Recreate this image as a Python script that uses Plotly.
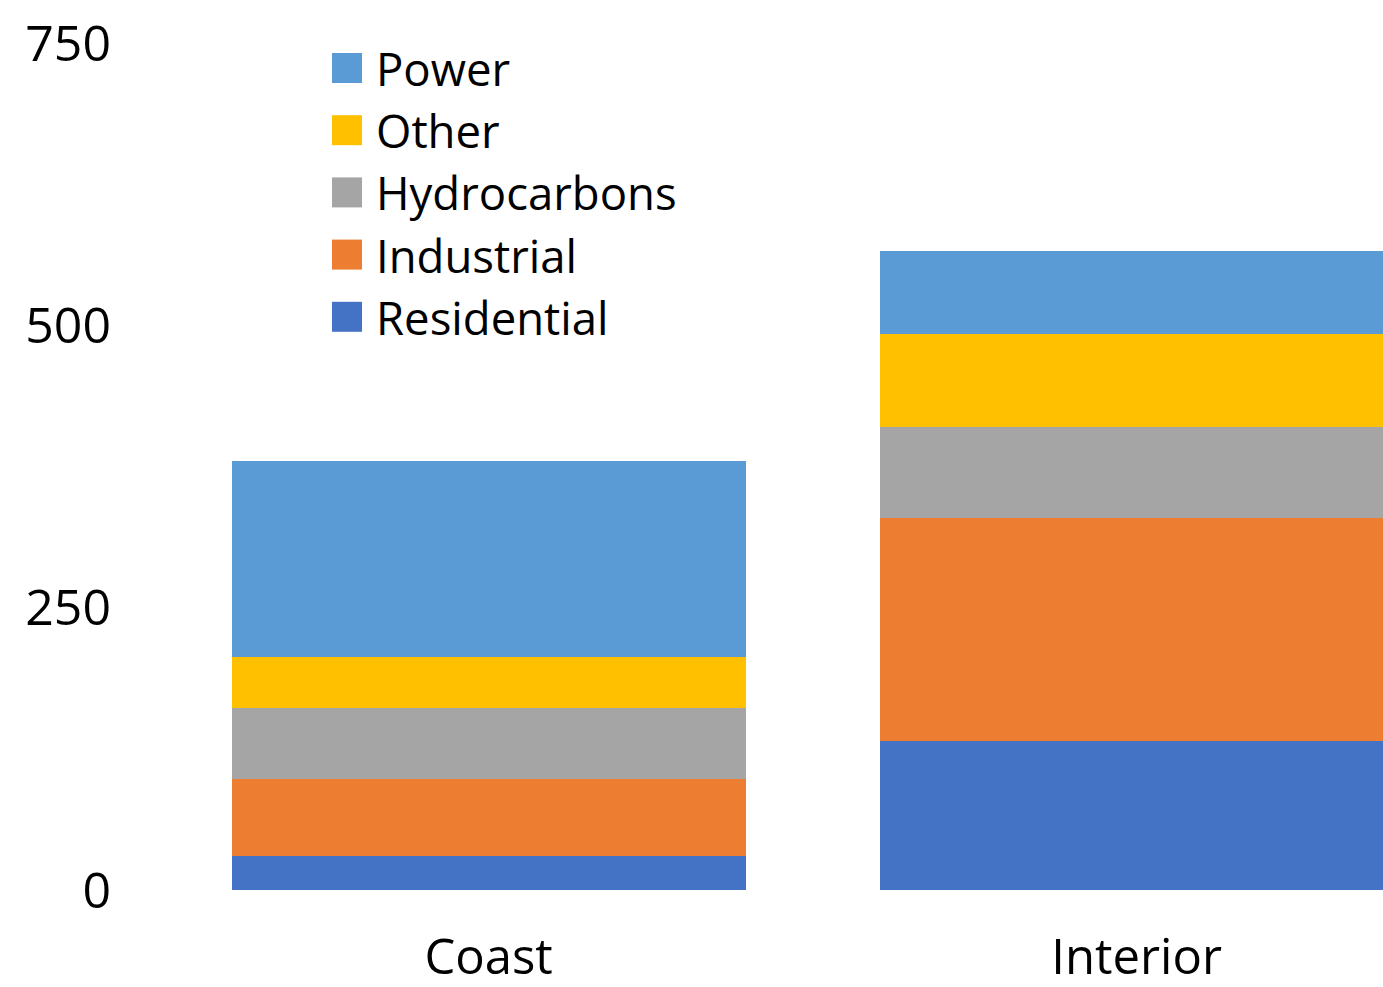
import plotly.graph_objects as go

# Regions and stacked segment values (bottom to top)
regions = ["Coast", "Interior"]
series_names = ["Residential", "Industrial", "Hydrocarbons", "Other", "Power"]
residential = [30, 132]
industrial = [68, 197]
hydrocarbons = [63, 81]
other = [45, 82]
power = [174, 74]
series_values = [residential, industrial, hydrocarbons, other, power]
series_colors = ["#4472C4", "#ED7D31", "#A5A5A5", "#FFC000", "#5B9BD5"]
y_ticks = [0, 250, 500, 750]

W, H = 1383, 987
ML, MR, MT, MB = 112, 0, 5, 97
FONT = "Open Sans"

fig = go.Figure()
for name, vals, col in zip(series_names, series_values, series_colors):
    fig.add_trace(go.Bar(x=regions, y=vals, name=name, marker=dict(color=col, line=dict(width=0)),
                         showlegend=False))

# Hand-drawn legend: large swatches, top entry is the last stacked series
plot_w = W - ML - MR
plot_h = H - MT - MB
def px_to_paper_x(px):
    return (px - ML) / plot_w
def px_to_paper_y(py):
    return (H - MB - py) / plot_h

row0, row_step = 68, 62.2
for i, (name, col) in enumerate(zip(reversed(series_names), reversed(series_colors))):
    cy = row0 + i * row_step
    fig.add_shape(type="rect", xref="paper", yref="paper",
                  x0=px_to_paper_x(332), x1=px_to_paper_x(362),
                  y0=px_to_paper_y(cy + 15), y1=px_to_paper_y(cy - 15),
                  fillcolor=col, line=dict(width=0))
    fig.add_annotation(xref="paper", yref="paper", x=px_to_paper_x(374), y=px_to_paper_y(cy),
                       text=name, showarrow=False, xanchor="left", yanchor="middle",
                       font=dict(family=FONT, size=45.5, color="#000000"))

fig.update_layout(
    width=W, height=H,
    margin=dict(l=ML, r=MR, t=MT, b=MB, pad=0),
    barmode="stack",
    bargap=0.207,
    plot_bgcolor="white",
    paper_bgcolor="white",
    font=dict(family=FONT, color="#000000"),
    xaxis=dict(range=[-(488 - ML) / 647, (1381 - 488) / 647], showgrid=False, showline=False,
               zeroline=False, ticks="", ticklabelstandoff=34, automargin=False,
               tickfont=dict(size=49, family=FONT)),
    yaxis=dict(range=[0, plot_h / 1.1293], tickvals=y_ticks, showgrid=False, showline=False,
               zeroline=False, ticks="", automargin=False, tickfont=dict(size=50, family=FONT)),
)

fig.write_html("out.html")
